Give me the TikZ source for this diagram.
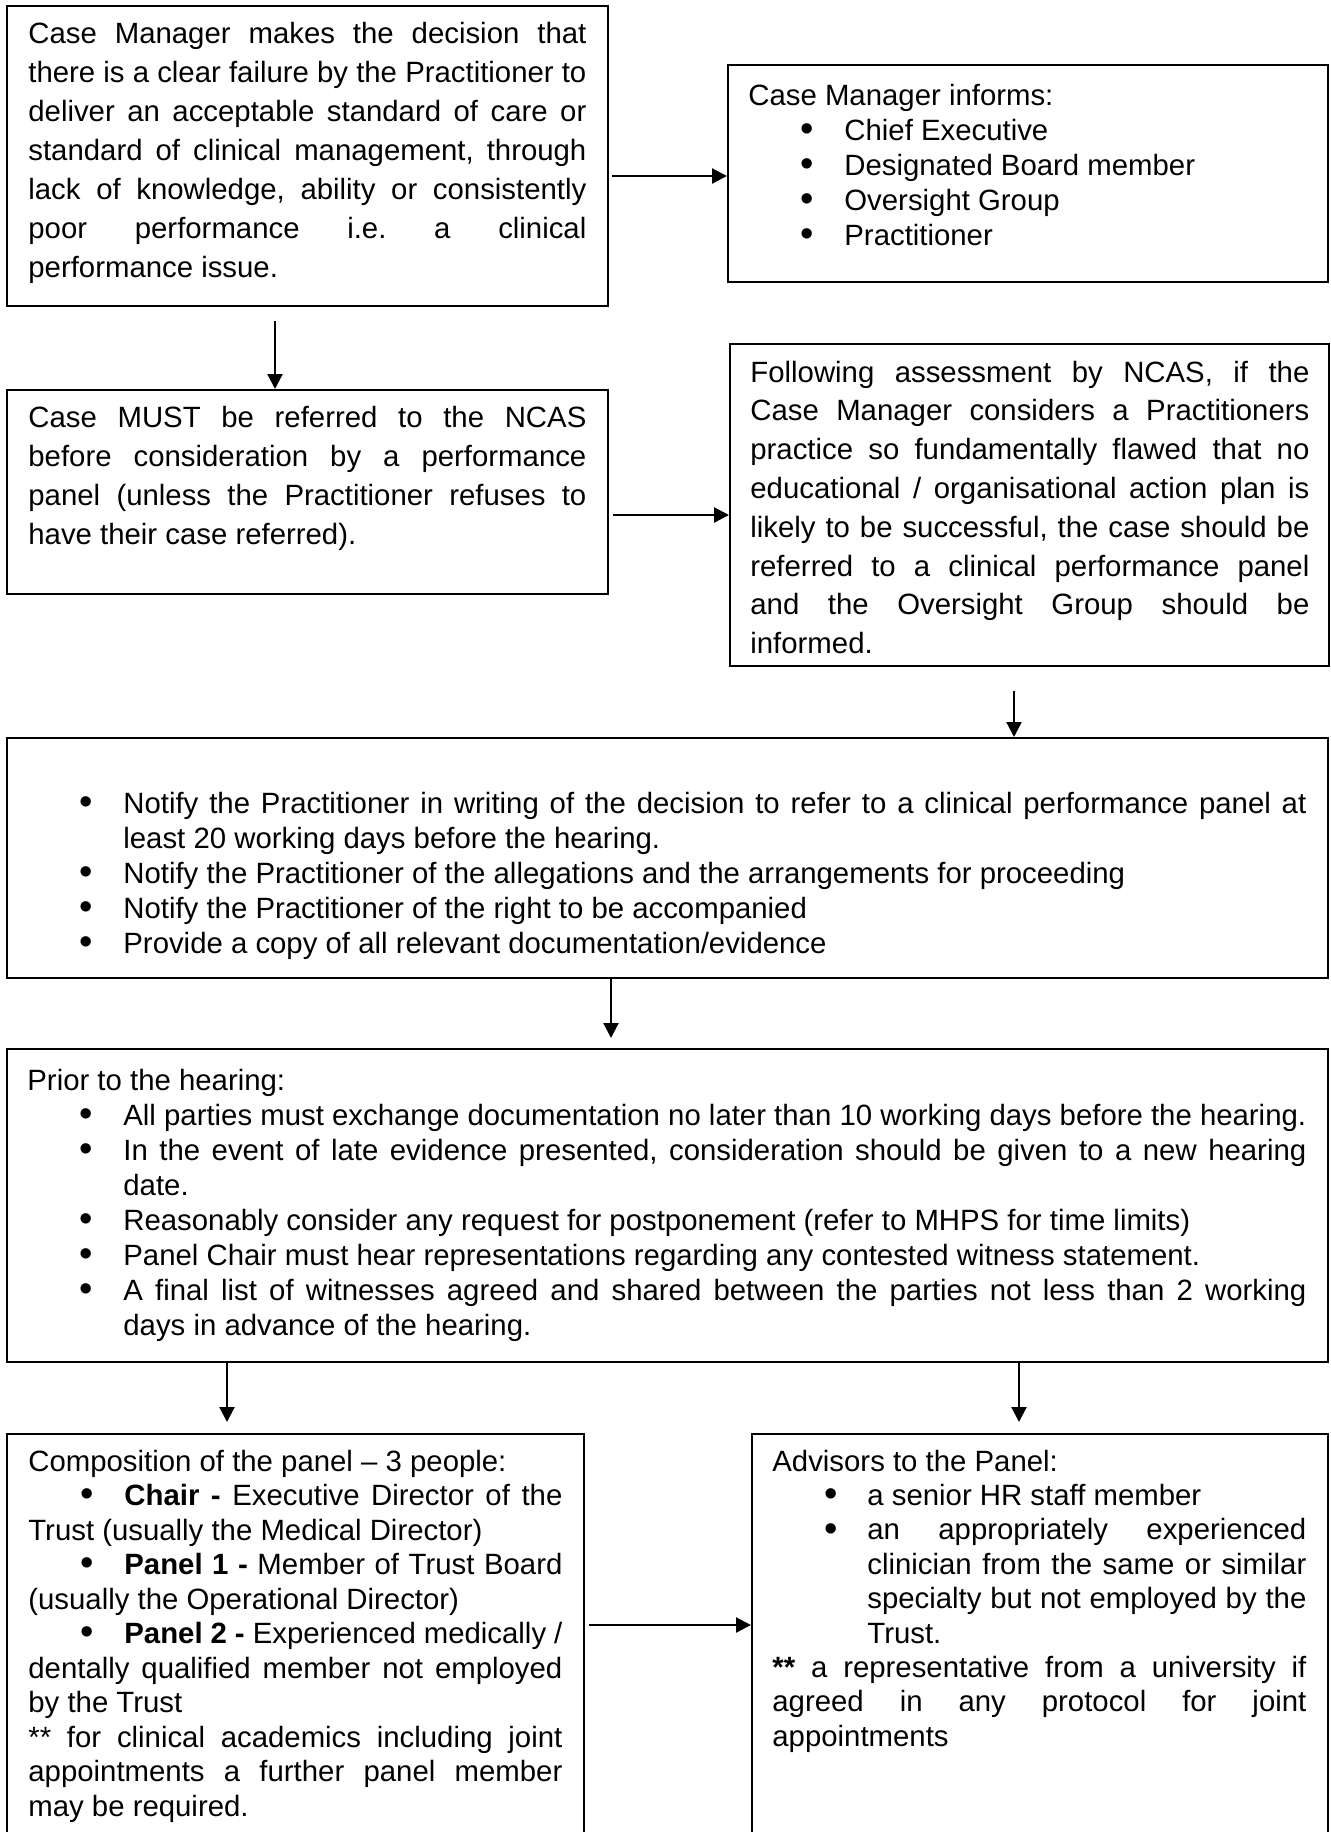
\documentclass[tikz,border=0pt]{standalone}
\usepackage{graphicx}
\usepackage{fontspec}
\setmainfont{Liberation Sans}
\usetikzlibrary{arrows.meta,calc}
\newlength\LW \newlength\BI \newlength\BW
\newcommand\J[1]{\hbox to\LW{#1}}
\newcommand\F[1]{\hbox{#1}}
\newcommand\BL{\kern\BI\hbox to\BW{\raisebox{-0.6pt}{\scalebox{1.3}{\textbullet}}\hfil}}
\newcommand\VB[3]{\vtop{\LW=#1\baselineskip=#2\lineskiplimit=-30pt\lineskip=0pt #3}}
\tikzset{
  box/.style={draw, line width=1pt, anchor=north west, inner sep=0pt},
  txt/.style={anchor=base west, inner sep=0pt, font=\fontsize{14.675pt}{17.5pt}\selectfont},
  arr/.style={-{Triangle[length=7.5pt,width=7.5pt]}, line width=1.1pt},
}
\begin{document}
\frenchspacing
\BI=26pt \BW=22pt
\begin{tikzpicture}[x=0.5pt,y=-0.5pt]
\useasboundingbox (0,0) rectangle (1330,1832);
\fill[white] (0,0) rectangle (1330,1832);
\clip (0,0) rectangle (1330,1832);

% boxes
\node[box, minimum width=300.5pt, minimum height=150pt] (b1) at (6,5) {};
\node[box, minimum width=300pt, minimum height=108.5pt] (b2) at (727,64) {};
\node[box, minimum width=300.5pt, minimum height=102pt] (b3) at (6,389) {};
\node[box, minimum width=299.5pt, minimum height=161pt] (b4) at (729,343) {};
\node[box, minimum width=660.5pt, minimum height=120pt] (b5) at (6,737) {};
\node[box, minimum width=660.5pt, minimum height=156.5pt] (b6) at (6,1048) {};
\node[box, minimum width=288.5pt, minimum height=215pt] (b7) at (6,1433) {};
\node[box, minimum width=288pt, minimum height=215pt] (b8) at (751,1433) {};

% texts
\node[txt] (t1) at (28,43) {\VB{279pt}{19.5pt}{%
\J{Case Manager makes the decision that}
\J{there is a clear failure by the Practitioner to}
\J{deliver an acceptable standard of care or}
\J{standard of clinical management, through}
\J{lack of knowledge, ability or consistently}
\J{poor performance i.e. a clinical}
\F{performance issue.}}};

\node[txt] (t2) at (748,105) {\VB{290pt}{17.5pt}{%
\F{Case Manager informs:}
\F{\BL Chief Executive}
\F{\BL Designated Board member}
\F{\BL Oversight Group}
\F{\BL Practitioner}}};

\node[txt] (t3) at (28,427) {\VB{279pt}{19.5pt}{%
\J{Case MUST be referred to the NCAS}
\J{before consideration by a performance}
\J{panel (unless the Practitioner refuses to}
\F{have their case referred).}}};

\node[txt] (t4) at (750,382) {\VB{279.5pt}{19.4pt}{%
\J{Following assessment by NCAS, if the}
\J{Case Manager considers a Practitioners}
\J{practice so fundamentally flawed that no}
\J{educational / organisational action plan is}
\J{likely to be successful, the case should be}
\J{referred to a clinical performance panel}
\J{and the Oversight Group should be}
\F{informed.}}};

\node[txt] (t5) at (27,813) {\VB{639.5pt}{17.5pt}{%
\J{\BL Notify the Practitioner in writing of the decision to refer to a clinical performance panel at}
\F{\kern48pt least 20 working days before the hearing.}
\F{\BL Notify the Practitioner of the allegations and the arrangements for proceeding}
\F{\BL Notify the Practitioner of the right to be accompanied}
\F{\BL Provide a copy of all relevant documentation/evidence}}};

\node[txt] (t6) at (27,1090) {\VB{639.5pt}{17.5pt}{%
\F{Prior to the hearing:}
\F{\BL All parties must exchange documentation no later than 10 working days before the hearing.}
\J{\BL In the event of late evidence presented, consideration should be given to a new hearing}
\F{\kern48pt date.}
\F{\BL Reasonably consider any request for postponement (refer to MHPS for time limits)}
\F{\BL Panel Chair must hear representations regarding any contested witness statement.}
\J{\BL A final list of witnesses agreed and shared between the parties not less than 2 working}
\F{\kern48pt days in advance of the hearing.}}};

\node[txt] (t7) at (28,1471) {\VB{267pt}{17.25pt}{%
\F{Composition of the panel – 3 people:}
\J{\BL\textbf{Chair -} Executive Director of the}
\F{Trust (usually the Medical Director)}
\J{\BL\textbf{Panel 1 -} Member of Trust Board}
\F{(usually the Operational Director)}
\J{\BL\textbf{Panel 2 -} Experienced medically /}
\J{dentally qualified member not employed}
\F{by the Trust}
\J{** for clinical academics including joint}
\J{appointments a further panel member}
\F{may be required.}}};

\node[txt] (t8) at (772,1471) {\VB{267pt}{17.2pt}{%
\BW=21.5pt
\F{Advisors to the Panel:}
\F{\BL a senior HR staff member}
\J{\BL an appropriately experienced}
\J{\kern47.5pt clinician from the same or similar}
\J{\kern47.5pt specialty but not employed by the}
\F{\kern47.5pt Trust.}
\J{\textbf{**} a representative from a university if}
\J{agreed in any protocol for joint}
\F{appointments}}};

% connectors
\draw[arr] ($(b1.north east)+(3,171)$) -- ($(b2.north west)+(0,112)$);
\draw[arr] ($(b1.south west)+(269,14)$) -- ($(b3.north west)+(269,0)$);
\draw[arr] ($(b3.north east)+(4,126)$) -- ($(b4.north west)+(0,172)$);
\draw[arr] ($(b4.south west)+(285,24)$) -- ($(b5.north west)+(1008,0)$);
\draw[arr] ($(b5.south west)+(605,0)$) -- ($(b6.north west)+(605,-10)$);
\draw[arr] ($(b6.south west)+(221,0)$) -- ($(b7.north west)+(221,-11)$);
\draw[arr] ($(b6.south west)+(1013,0)$) -- ($(b8.north west)+(268,-11)$);
\draw[arr] ($(b7.north east)+(4,192)$) -- ($(b8.north west)+(0,192)$);
\end{tikzpicture}
\end{document}
